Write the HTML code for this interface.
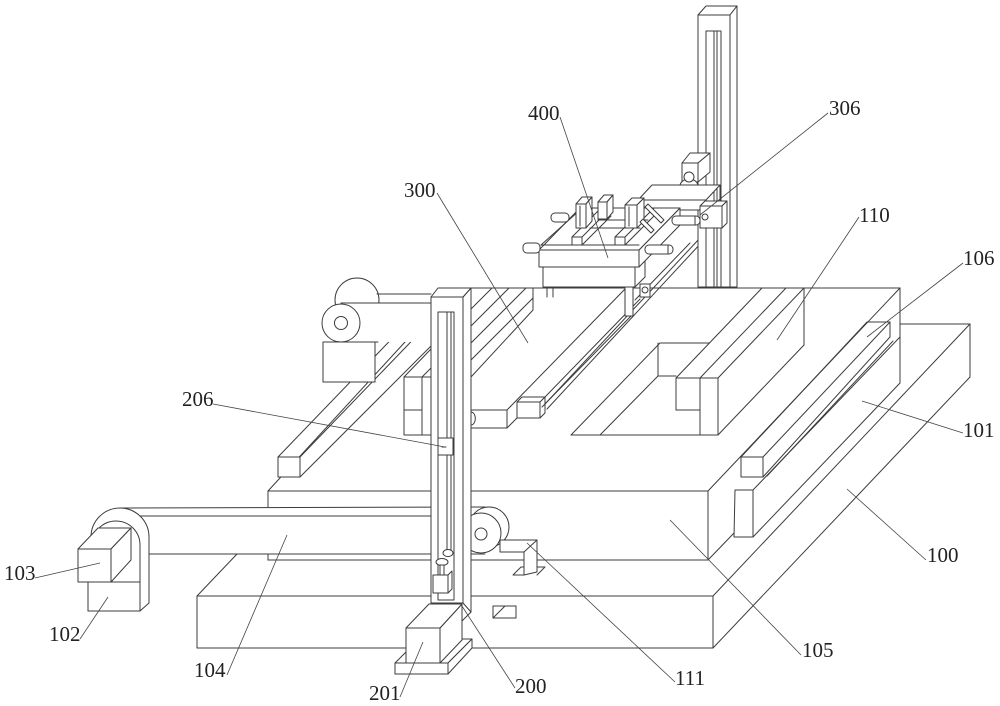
<!DOCTYPE html>
<html><head><meta charset="utf-8"><style>
html,body{margin:0;padding:0;background:#fff;}
svg{display:block}
text{font-family:"Liberation Serif",serif;font-size:21px;fill:#222}
</style></head><body>
<svg width="1000" height="706" viewBox="0 0 1000 706" xmlns="http://www.w3.org/2000/svg">
<g fill="none" stroke="#3c3c3c" stroke-width="1" stroke-linejoin="round" stroke-linecap="round">

<!-- Base 100 -->
<rect x="197" y="596" width="516" height="52" fill="#fff"/>
<line x1="197" y1="596" x2="237" y2="554"/>
<line x1="713" y1="596" x2="970" y2="324"/>
<line x1="900" y1="324" x2="970" y2="324"/>
<line x1="970" y1="324" x2="970" y2="377"/>
<line x1="713" y1="648" x2="970" y2="377"/>
<rect x="493" y="606" width="23" height="12"/>
<line x1="493" y1="618" x2="505" y2="606"/>

<!-- Plate 105 -->
<rect x="268" y="491" width="440" height="69" fill="#fff"/>
<polyline points="708,491 900,288 900,383"/>
<line x1="460" y1="288" x2="900" y2="288"/>
<line x1="268" y1="491" x2="405" y2="342"/>
<line x1="708" y1="560" x2="735" y2="532"/>

<!-- recess -->
<polyline points="718,435 571,435 660,343 709,343"/>
<polyline points="658,343 658,376 676,376"/>
<line x1="600" y1="435" x2="658" y2="376"/>

<!-- 110 rail -->
<line x1="676" y1="378" x2="762" y2="288"/>
<line x1="700" y1="378" x2="786" y2="288"/>
<line x1="718" y1="378" x2="804" y2="288"/>
<line x1="804" y1="288" x2="804" y2="345"/>
<line x1="718" y1="435" x2="804" y2="345"/>
<rect x="676" y="378" width="24" height="32" fill="#fff"/>
<rect x="700" y="378" width="18" height="57" fill="#fff"/>

<!-- 106 rail -->
<line x1="741" y1="457" x2="867" y2="322"/>
<line x1="763" y1="457" x2="890" y2="322"/>
<line x1="867" y1="322" x2="890" y2="322"/>
<line x1="890" y1="322" x2="890" y2="337"/>
<line x1="763" y1="477" x2="890" y2="337"/>
<line x1="767" y1="476" x2="893" y2="341"/>
<rect x="741" y="457" width="22" height="20" fill="#fff"/>

<!-- 101 bar -->
<line x1="753" y1="490" x2="900" y2="337"/>
<line x1="753" y1="537" x2="900" y2="383"/>
<polygon points="735,490 753,490 753,537 734,537" fill="#fff"/>

<!-- left rail bar -->
<line x1="278" y1="457" x2="407" y2="323"/>
<line x1="300" y1="457" x2="429" y2="323"/>
<line x1="300" y1="477" x2="431" y2="346"/>
<rect x="278" y="457" width="22" height="20" fill="#fff"/>

<!-- 300 hatched zone -->
<polyline points="533,288 533,310 471,377"/>
<line x1="471" y1="309" x2="492" y2="288"/>
<line x1="471" y1="326" x2="509" y2="288"/>
<line x1="471" y1="343" x2="526" y2="288"/>
<line x1="471" y1="360" x2="533" y2="298"/>
<rect x="404" y="377" width="27" height="58" fill="#fff"/>
<line x1="422" y1="377" x2="422" y2="435"/>
<line x1="404" y1="410" x2="422" y2="410"/>
<line x1="404" y1="377" x2="431" y2="349"/>
<line x1="422" y1="377" x2="431" y2="368"/>

<!-- track lines -->
<line x1="507" y1="410" x2="626" y2="288"/>
<line x1="545" y1="397" x2="640" y2="299"/>
<line x1="542" y1="407" x2="632" y2="315"/>
<line x1="545" y1="404" x2="700" y2="238"/>
<line x1="547" y1="409" x2="702" y2="242"/>
<line x1="635" y1="300" x2="690" y2="243"/>
<rect x="471" y="410" width="36" height="18" fill="#fff"/>
<line x1="507" y1="428" x2="517" y2="418"/>
<rect x="517" y="402" width="23" height="16" fill="#fff"/>
<polyline points="517,402 522,397 545,397 540,402"/>
<polyline points="545,397 545,413 540,418"/>
<rect x="625" y="287" width="8" height="29" fill="#fff"/>
<rect x="640" y="284" width="10" height="13" fill="#fff"/>
<circle cx="645" cy="290" r="3"/>

<!-- Column right (behind carriage) -->
<rect x="698" y="15" width="32" height="272" fill="#fff"/>
<polygon points="698,15 706,6 737,6 730,15" fill="#fff"/>
<polygon points="730,15 737,6 737,287 730,287" fill="#fff"/>
<rect x="706" y="31" width="15" height="256"/>
<line x1="714" y1="31" x2="714" y2="287"/>
<line x1="717" y1="31" x2="717" y2="287"/>

<!-- slider motor on column -->
<rect x="682" y="163" width="16" height="19" fill="#fff"/>
<polygon points="682,163 690,153 710,153 698,163" fill="#fff"/>
<polygon points="698,163 710,153 710,172 698,182" fill="#fff"/>
<path d="M680,186 A9,7 0 0 1 698,186" fill="#fff"/>
<circle cx="689" cy="177" r="5" fill="#fff"/>

<!-- carriage body -->
<polygon points="638,200 652,185 720,185 706,200" fill="#fff"/>
<polyline points="720,185 720,204"/>
<rect x="638" y="200" width="68" height="10" fill="#fff"/>

<!-- lower block -->
<polygon points="543,267 635,267 645,257 645,277 635,287 543,287" fill="#fff"/>
<line x1="635" y1="267" x2="635" y2="287"/>
<line x1="547" y1="287" x2="547" y2="297"/>
<line x1="553" y1="287" x2="553" y2="297"/>

<!-- clamp body -->
<polygon points="639,250 680,208 680,225 639,267" fill="#fff"/>
<polygon points="539,250 580,208 680,208 639,250" fill="#fff"/>
<rect x="539" y="250" width="100" height="17" fill="#fff"/>
<line x1="541" y1="245" x2="639" y2="245"/>
<line x1="541" y1="245" x2="580" y2="210"/>
<!-- top rails -->
<line x1="572" y1="237" x2="601" y2="208"/>
<line x1="582" y1="237" x2="611" y2="208"/>
<line x1="582" y1="245" x2="611" y2="216"/>
<rect x="572" y="237" width="10" height="8" fill="#fff"/>
<line x1="615" y1="237" x2="644" y2="208"/>
<line x1="625" y1="237" x2="654" y2="208"/>
<line x1="625" y1="245" x2="654" y2="216"/>
<rect x="615" y="237" width="10" height="8" fill="#fff"/>
<line x1="590" y1="228" x2="640" y2="228"/>
<line x1="598" y1="220" x2="648" y2="220"/>

<!-- jaws -->
<polygon points="598,202 604,195 613,195 607,202" fill="#fff"/>
<polygon points="607,202 613,195 613,212 607,219" fill="#fff"/>
<rect x="598" y="202" width="9" height="17" fill="#fff"/>
<polygon points="576,204 582,197 592,197 586,204" fill="#fff"/>
<polygon points="586,204 592,197 592,221 586,228" fill="#fff"/>
<rect x="576" y="204" width="10" height="24" fill="#fff"/>
<line x1="580" y1="206" x2="580" y2="226"/>
<polygon points="625,205 632,198 644,198 637,205" fill="#fff"/>
<polygon points="637,205 644,198 644,221 637,228" fill="#fff"/>
<rect x="625" y="205" width="12" height="23" fill="#fff"/>
<line x1="629" y1="207" x2="629" y2="226"/>
<polygon points="645,207 648,204 664,220 661,223" fill="#fff"/>
<polygon points="640,222 643,219 654,230 651,233" fill="#fff"/>

<!-- cylinders -->
<rect x="523" y="243" width="17" height="10" rx="4" fill="#fff"/>
<rect x="551" y="213" width="18" height="9" rx="4" fill="#fff"/>
<rect x="645" y="245" width="28" height="9" rx="4" fill="#fff"/>
<line x1="668" y1="245" x2="668" y2="254"/>
<rect x="672" y="216" width="28" height="9" rx="4" fill="#fff"/>
<line x1="695" y1="216" x2="695" y2="225"/>

<!-- 306 block -->
<rect x="700" y="206" width="22" height="22" fill="#fff"/>
<polygon points="700,206 705,201 727,201 722,206" fill="#fff"/>
<polygon points="722,206 727,201 727,223 722,228" fill="#fff"/>
<circle cx="705" cy="217" r="3"/>

<!-- upper left roller assembly -->
<circle cx="357" cy="300" r="22" fill="#fff"/>
<line x1="377" y1="294" x2="431" y2="294"/>
<polygon points="341,303 431,303 431,342 341,342" fill="#fff" stroke="none"/>
<line x1="341" y1="303" x2="431" y2="303"/>
<line x1="341" y1="342" x2="378" y2="342"/>
<circle cx="341" cy="323" r="19" fill="#fff"/>
<circle cx="341" cy="323" r="6.5" fill="#fff"/>
<rect x="323" y="342" width="52" height="40" fill="#fff"/>

<!-- belt 104 -->
<polygon points="120,507 485,507 485,554 149,554 149,516" fill="#fff" stroke="none"/>
<line x1="120" y1="508" x2="485" y2="507"/>
<line x1="140" y1="516" x2="485" y2="516"/>
<line x1="149" y1="554" x2="485" y2="554"/>
<line x1="268" y1="554" x2="268" y2="560"/>

<!-- left housing and motor -->
<path d="M91,537 A29,29 0 0 1 149,537 L149,603 L140,611 L88,611 L88,545 Z" fill="#fff"/>
<path d="M92,545 A24,24 0 0 1 140,545 L140,611"/>
<rect x="88" y="582" width="52" height="29" fill="#fff"/>
<rect x="78" y="549" width="33" height="33" fill="#fff"/>
<polygon points="78,549 98,528 131,528 111,549" fill="#fff"/>
<polygon points="111,549 131,528 131,560 111,582" fill="#fff"/>

<!-- right roller -->
<circle cx="489" cy="527" r="20" fill="#fff"/>
<circle cx="481" cy="533" r="20" fill="#fff"/>
<circle cx="481" cy="534" r="6" fill="#fff"/>

<!-- bracket 111 -->
<polygon points="500,540 537,540 537,572 524,575 524,552 500,552" fill="#fff"/>
<line x1="524" y1="552" x2="537" y2="540"/>
<polygon points="513,575 521,567 524,567 524,575" fill="#fff"/>
<polyline points="537,567 545,567 537,575"/>

<!-- Column 200 -->
<polygon points="463,297 471,288 471,612 463,603" fill="#fff"/>
<line x1="471" y1="612" x2="462" y2="621"/>
<rect x="431" y="297" width="32" height="306" fill="#fff"/>
<polygon points="431,297 438,288 471,288 463,297" fill="#fff"/>
<rect x="438" y="312" width="16" height="288"/>
<line x1="447" y1="312" x2="447" y2="550"/>
<line x1="451" y1="312" x2="451" y2="550"/>
<rect x="438" y="438" width="15" height="17" fill="#fff"/>
<line x1="442" y1="447" x2="446" y2="447"/>
<path d="M471,412 A4,6 0 0 1 471,425"/>
<ellipse cx="448" cy="553" rx="5" ry="3.5" fill="#fff"/>
<ellipse cx="442" cy="562" rx="6" ry="3.5" fill="#fff"/>
<rect x="440" y="565" width="4" height="10" fill="#fff"/>
<rect x="433" y="575" width="15" height="18" fill="#fff"/>
<polygon points="448,575 452,571 452,589 448,593" fill="#fff"/>

<!-- Motor 201 -->
<polygon points="395,663 419,639 472,639 448,663" fill="#fff"/>
<polygon points="448,663 472,639 472,648 448,674" fill="#fff"/>
<rect x="395" y="663" width="53" height="11" fill="#fff"/>
<polygon points="440,628 462,604 462,640 440,663" fill="#fff"/>
<polygon points="406,628 429,604 462,604 440,628" fill="#fff"/>
<rect x="406" y="628" width="34" height="35" fill="#fff"/>
</g>

<!-- leaders -->
<g stroke="#444" stroke-width="0.8" fill="none">
<line x1="828" y1="113" x2="700" y2="215"/>
<line x1="560" y1="117" x2="608" y2="258"/>
<line x1="437" y1="193" x2="528" y2="343"/>
<line x1="859" y1="217" x2="777" y2="340"/>
<line x1="963" y1="263" x2="867" y2="337"/>
<line x1="963" y1="433" x2="862" y2="401"/>
<line x1="926" y1="560" x2="847" y2="489"/>
<line x1="801" y1="655" x2="670" y2="520"/>
<line x1="675" y1="682" x2="527" y2="543"/>
<line x1="515" y1="688" x2="460" y2="603"/>
<line x1="213" y1="404" x2="445" y2="447"/>
<line x1="35" y1="578" x2="100" y2="563"/>
<line x1="80" y1="639" x2="108" y2="597"/>
<line x1="227" y1="675" x2="287" y2="535"/>
<line x1="400" y1="697" x2="423" y2="642"/>
</g>

<g>
<text x="829" y="115">306</text>
<text x="528" y="120">400</text>
<text x="404" y="197">300</text>
<text x="859" y="222">110</text>
<text x="963" y="265">106</text>
<text x="963" y="437">101</text>
<text x="927" y="562">100</text>
<text x="802" y="657">105</text>
<text x="675" y="685">111</text>
<text x="515" y="693">200</text>
<text x="182" y="406">206</text>
<text x="4" y="580">103</text>
<text x="49" y="641">102</text>
<text x="194" y="677">104</text>
<text x="369" y="700">201</text>
</g>
</svg>
</body></html>
